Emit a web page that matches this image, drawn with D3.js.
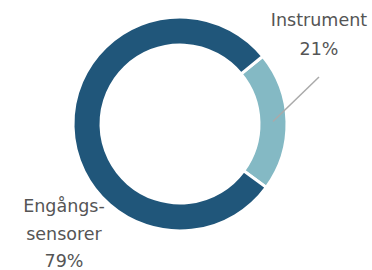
<!DOCTYPE html>
<html><head><meta charset="utf-8">
<script src="https://cdn.jsdelivr.net/npm/d3@7"></script>
<style>html,body{margin:0;padding:0;background:#fff;}svg{display:block;}</style>
</head><body>
<svg id="c" width="372" height="270"></svg>
<script>
const categories = ["Instrument", "Engångssensorer"];
const values = [21, 79];
const valueLabels = ["21%", "79%"];
const labelLines = [["Instrument", "21%"], ["Engångs-", "sensorer", "79%"]];
const colors = ["#84b9c4", "#20567a"];

const svg = d3.select("#c");
const cx = 180, cy = 124, rOuter = 107, rInner = 79;
const g = svg.append("g").attr("transform", `translate(${cx},${cy})`);

const startDeg = 50.7;
const pie = d3.pie().sort(null).value(d => d)
  .startAngle(startDeg * Math.PI / 180)
  .endAngle(startDeg * Math.PI / 180 + 2 * Math.PI);
const arcs = pie(values);
const arc = d3.arc().innerRadius(rInner).outerRadius(rOuter);

g.selectAll("path.slice").data(arcs).enter().append("path")
  .attr("class", "slice")
  .attr("d", arc)
  .attr("fill", (d, i) => colors[i])
  .attr("stroke", "#fff")
  .attr("stroke-width", 3)
  .attr("stroke-linejoin", "miter");

const font = "DejaVu Sans, sans-serif";
const textColor = "#555555";

const c0 = arc.centroid(arcs[0]);
g.append("line")
  .attr("x1", c0[0]).attr("y1", c0[1])
  .attr("x2", 319 - cx).attr("y2", 77 - cy)
  .attr("stroke", "#aaaaaa").attr("stroke-width", 1.5);

const lab0 = svg.append("text").attr("text-anchor", "middle")
  .attr("font-family", font).attr("font-size", 17.5).attr("fill", textColor);
labelLines[0].forEach((t, i) => {
  lab0.append("tspan").attr("x", 319).attr("y", 26 + i * 29).text(t);
});

const lab1 = svg.append("text").attr("text-anchor", "middle")
  .attr("font-family", font).attr("font-size", 17.5).attr("fill", textColor);
labelLines[1].forEach((t, i) => {
  lab1.append("tspan").attr("x", 64).attr("y", 212 + i * 27.5).text(t);
});
</script>
</body></html>
